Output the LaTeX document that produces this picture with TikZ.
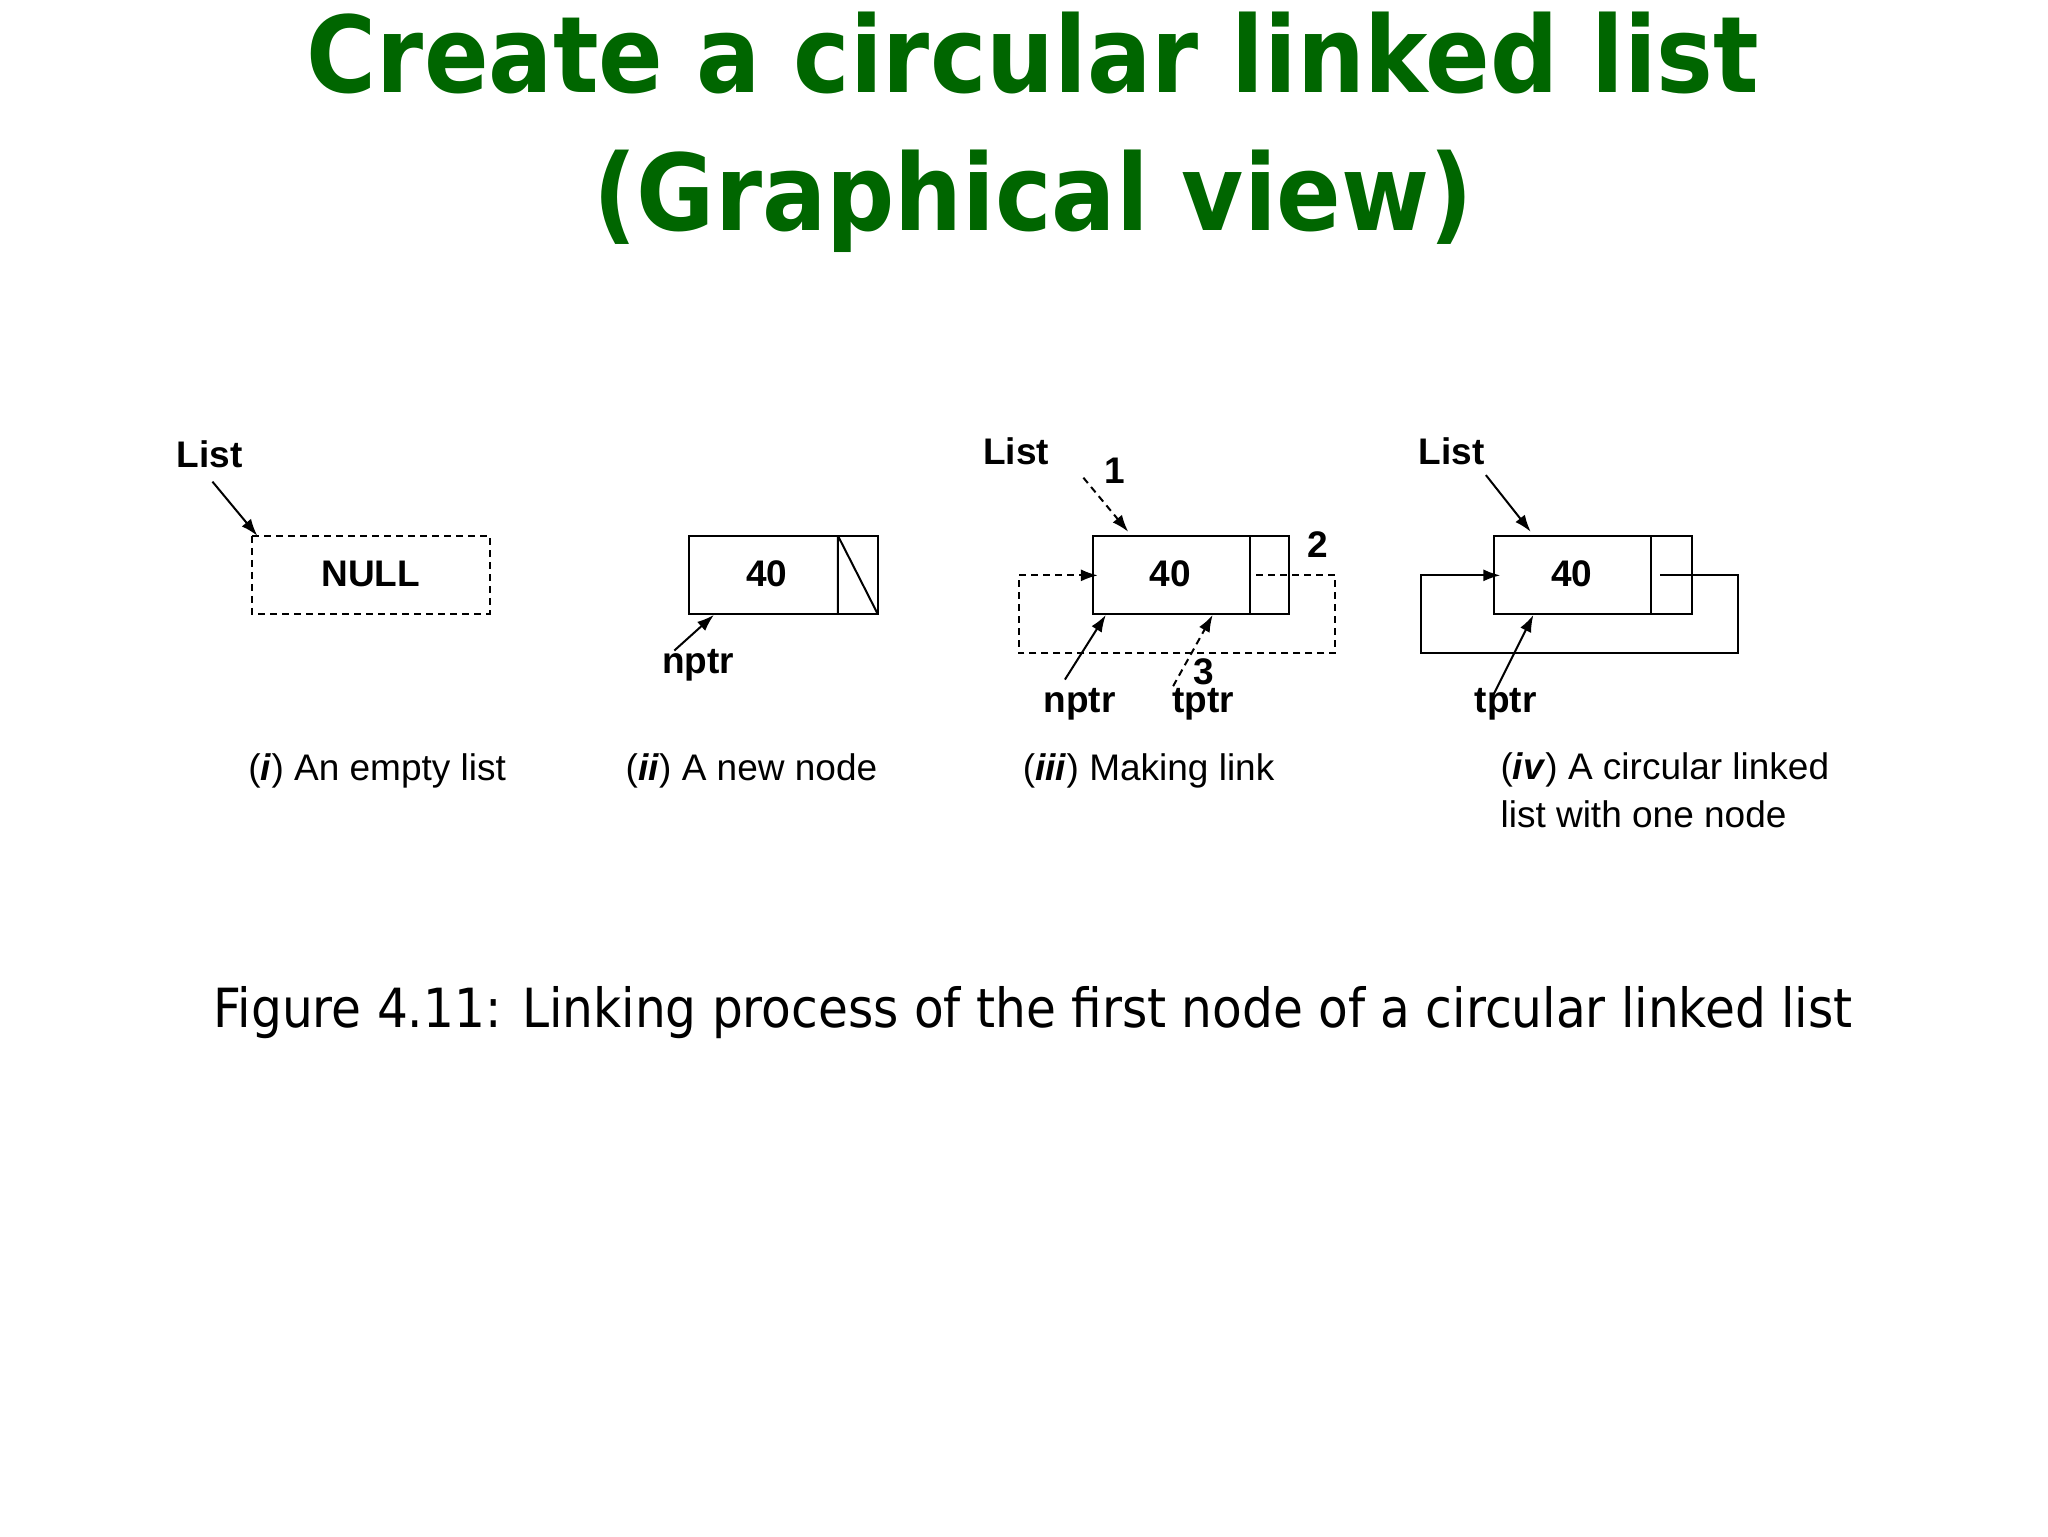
\documentclass[tikz,border=0pt]{standalone}
\usepackage{fontspec}
\setmainfont{Liberation Sans}
\newfontfamily\titlefont{DejaVu Sans Condensed}
\usetikzlibrary{arrows.meta}
\definecolor{tgreen}{RGB}{0,102,0}
\begin{document}
\begin{tikzpicture}[x=1.3196pt,y=-1.3196pt,
  box/.style={draw,line width=2pt},
  dbox/.style={draw,line width=2pt,dash pattern=on 7pt off 5pt},
  lab/.style={font=\fontsize{37}{40}\selectfont\bfseries,inner sep=0pt},
  captext/.style={font=\fontsize{37}{48}\selectfont,inner sep=0pt,anchor=west,align=left},
  arr/.style={line width=2pt,-{Latex[length=17pt,width=12pt]}},
  darr/.style={arr,dash pattern=on 7pt off 5pt}]
\useasboundingbox (0,0) rectangle (1552,1164);
\fill[white] (0,0) rectangle (1552,1164);
\node[font=\titlefont\fontsize{106}{138}\selectfont\bfseries,text=tgreen,align=center] (title) at (783,100) {Create a circular linked list\\(Graphical view)};
% panel i
\draw[dbox] (191,406) rectangle (371,465);
\node[lab] (null) at (281,435) {NULL};
\coordinate (nulltl) at (195,406);
\node[lab] (list1) at (159,344) {List};
\draw[arr] (161,365) -- (nulltl);
% panel ii
\draw[box] (522,406) rectangle (665,465);
\draw[box] (635,406) -- (635,465) (635,406) -- (665,465);
\node[lab] (v2) at (581,435) {40};
\node[lab] (nptr2) at (529,504) {nptr};
\coordinate (b2) at (541,466);
\draw[arr] (511,493) -- (b2);
% panel iii
\draw[box] (828,406) rectangle (977,465);
\draw[box] (947,406) -- (947,465);
\node[lab] (v3) at (887,435) {40};
\node[lab] (list3) at (770,342) {List};
\node[lab] (one) at (845,357) {1};
\node[lab] (two) at (999,413) {2};
\node[lab] (three) at (912,509) {3};
\coordinate (t3) at (855,403);
\draw[darr] (821,362) -- (t3);
\coordinate (in3) at (832,436);
\draw[darr] (952,436) -- (1012,436) -- (1012,495) -- (772,495) -- (772,436) -- (in3);
\node[lab] (nptr3) at (818,534) {nptr};
\node[lab] (tptr3) at (912,534) {tptr};
\coordinate (b3a) at (838,466);
\coordinate (b3b) at (919,466);
\draw[arr] (807,515) -- (b3a);
\draw[darr] (889,520) -- (b3b);
% panel iv
\draw[box] (1132,406) rectangle (1282,465);
\draw[box] (1251,406) -- (1251,465);
\node[lab] (v4) at (1191,435) {40};
\node[lab] (list4) at (1100,342) {List};
\coordinate (t4) at (1160,403);
\draw[arr] (1126,360) -- (t4);
\coordinate (in4) at (1137,436);
\draw[arr] (1258,436) -- (1317,436) -- (1317,495) -- (1077,495) -- (1077,436) -- (in4);
\node[lab] (tptr4) at (1141,534) {tptr};
\coordinate (b4) at (1162,466);
\draw[arr] (1131,528) -- (b4);
% captions
\node[captext] (c1) at (188,584) {(\textbf{\textit{i}}) An empty list};
\node[captext] (c2) at (474,584) {(\textbf{\textit{ii}}) A new node};
\node[captext] (c3) at (775,584) {(\textbf{\textit{iii}}) Making link};
\node[captext,anchor=north west] (c4) at (1137,570) {(\textbf{\textit{iv}}) A circular linked\\list with one node};
\node[font=\titlefont\fontsize{54}{60}\selectfont,inner sep=0pt] (fig) at (783,767) {Figure 4.11: Linking process of the first node of a circular linked list};
\end{tikzpicture}
\end{document}
